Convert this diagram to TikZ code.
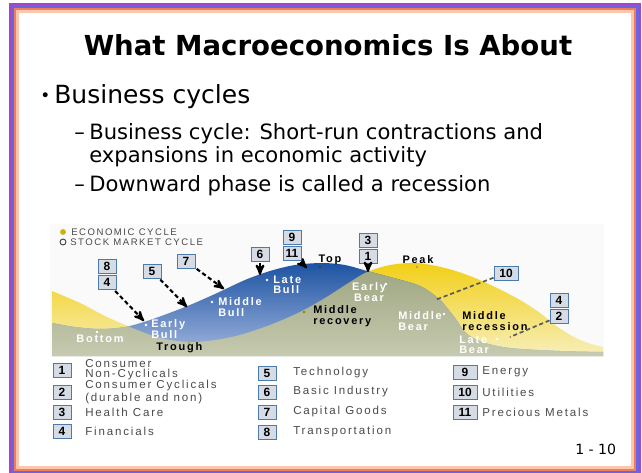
\documentclass[tikz,border=0pt]{standalone}
\usepackage{fontspec}
\setmainfont{DejaVu Sans}
\newfontfamily\chartfont[LetterSpace=16]{Liberation Sans}
\newfontfamily\numfont{Liberation Sans}
\usepackage{tikz}
\usetikzlibrary{arrows}
\usetikzlibrary{positioning}

\definecolor{rimpurple}{HTML}{A545C8}
\definecolor{rimblue}{HTML}{6A63E2}
\definecolor{rimorange}{HTML}{F27B5B}
\definecolor{rimpeach}{HTML}{FBC6AC}
\definecolor{econtop}{HTML}{F2CF16}
\definecolor{econbot}{HTML}{F7EFBC}
\definecolor{stocktop}{HTML}{1D53A2}
\definecolor{stockbot}{HTML}{A3B7DF}
\definecolor{bothtop}{HTML}{9CA47F}
\definecolor{bothbot}{HTML}{C6CAB0}
\definecolor{boxfill}{HTML}{D6DCE5}
\definecolor{boxedge}{HTML}{4C7AAA}
\definecolor{keytext}{HTML}{4A4A4A}

% the two cycles as filled areas (pixel units, y downwards)
\newcommand{\econarea}{(52,356) -- plot[smooth] coordinates {(52,291) (80,303) (105,316) (130,327) (160,338) (190,342) (215,340) (240,335) (270,325) (300,312) (325,298) (350,282) (367,272) (390,265) (417,263) (445,268) (470,276) (495,287) (520,300) (540,313) (555,325) (572,336) (588,343) (603,347)} -- (603,356) -- cycle}
\newcommand{\stockarea}{(52,356) -- plot[smooth] coordinates {(52,323) (75,327) (100,329) (125,327) (150,320) (185,307) (215,294) (245,280) (270,271) (295,265) (322,263) (345,265) (367,271) (390,277) (420,286) (440,300) (455,318) (466,333) (482,342) (510,348) (560,351) (603,352)} -- (603,356) -- cycle}

\tikzset{
  slidetext/.style={anchor=base west, inner sep=0pt},
  numbox/.style={draw=boxedge, fill=boxfill, line width=0.7pt, inner sep=0pt,
    minimum width=0.45cm, minimum height=0.35cm, font=\numfont\bfseries\fontsize{8.5}{9}\selectfont},
  phase/.style={anchor=west, align=left, inner sep=0pt, font=\chartfont\bfseries\fontsize{7.8}{7.5}\selectfont},
  darkphase/.style={phase, text=black},
  lightphase/.style={phase, text=white},
  keylabel/.style={anchor=west, inner sep=0pt, text=keytext, font=\chartfont\fontsize{6.8}{7}\selectfont},
  keyentry/.style={anchor=west, align=left, inner sep=0pt, text=keytext, font=\chartfont\fontsize{8.2}{7.2}\selectfont},
  cue/.style={black, line width=1.5pt, dash pattern=on 3pt off 2pt, ->, >=stealth', shorten <=1pt},
  guide/.style={black!65, line width=1.2pt, dash pattern=on 3pt off 2pt}
}

\begin{document}
\begin{tikzpicture}[x=0.025cm, y=-0.025cm]
\useasboundingbox (0,0) rectangle (642,472);
\clip (0,0) rectangle (642,472);
\fill[white] (0,0) rectangle (642,472);

% slide frame
\draw[rimpurple, line width=1.8pt] (10.25,4.25) rectangle (639.75,474.75);
\draw[rimblue, line width=1.8pt] (12.75,6.75) rectangle (637.25,472.25);
\draw[rimorange, line width=1.8pt] (15.25,9.25) rectangle (634.75,469.75);
\draw[rimpeach, line width=1.8pt] (17.75,11.75) rectangle (632.25,467.25);

% text
\node[anchor=base, inner sep=0pt, font=\bfseries\fontsize{19.6}{22}\selectfont] (title) at (328,56) {What Macroeconomics Is About};
\node[slidetext, font=\fontsize{12}{14}\selectfont] (dot1) at (40,102) {\textbullet};
\node[slidetext, font=\fontsize{17.8}{20}\selectfont] (lvl1) at (54,104) {Business cycles};
\node[slidetext, font=\fontsize{15}{18}\selectfont] (dash1) at (74,139) {–};
\node[slidetext, font=\fontsize{15}{18}\selectfont] (line1) at (89,139) {Business cycle: Short-run contractions and};
\node[slidetext, font=\fontsize{15}{18}\selectfont] (line2) at (89,162) {expansions in economic activity};
\node[slidetext, font=\fontsize{15}{18}\selectfont] (dash2) at (74,191) {–};
\node[slidetext, font=\fontsize{15}{18}\selectfont] (line3) at (89,191) {Downward phase is called a recession};

% cycle chart
\fill[gray!4] (50,224) rectangle (604,357);
\shade[top color=econtop, bottom color=econbot] \econarea;
\shade[top color=stocktop, bottom color=stockbot] \stockarea;
\begin{scope}
  \clip \econarea;
  \shade[top color=bothtop, bottom color=bothbot] \stockarea;
\end{scope}

\fill[econtop!85!black] (63,232) circle (2.1pt);
\draw[keytext, line width=0.7pt] (63,242) circle (2.1pt);
\node[keylabel] (econkey) at (71,232) {ECONOMIC CYCLE};
\node[keylabel] (stockkey) at (70,242) {STOCK MARKET CYCLE};

\node[lightphase] (earlybull) at (151,329) {Early\\Bull};
\node[lightphase] (middlebull) at (218,307) {Middle\\Bull};
\node[lightphase] (latebull) at (273,285) {Late\\Bull};
\node[darkphase, anchor=center] (toplbl) at (330,260) {Top};
\node[lightphase, anchor=center, align=center] (earlybear) at (369,292) {Early\\Bear};
\node[darkphase] (midrecovery) at (313,316) {Middle\\recovery};
\node[darkphase, anchor=center] (peak) at (418,260) {Peak};
\node[lightphase] (middlebear) at (398,321) {Middle\\Bear};
\node[darkphase] (midrecession) at (462,321) {Middle\\recession};
\node[lightphase] (latebear) at (459,345) {Late\\Bear};
\node[lightphase, anchor=center] (bottomlbl) at (100,339) {Bottom};
\node[darkphase] (trough) at (156,348) {Trough};

\foreach \x/\y/\c in {146/325/white, 212/302/white, 267/280/white, 320/267/black!75,
  386/284/white, 304/312/olive, 417/267/olive!70, 444/314/white, 506/317/econtop!60,
  497/339/white, 97/332/white, 189/343/olive!70}
  \fill[\c] (\x,\y) circle (1pt);

% sector boxes on the curves
\node[numbox] (s8) at (107,266) {8};
\node[numbox, below=1pt of s8] (s4) {4};
\node[numbox] (s5) at (152,271) {5};
\node[numbox] (s7) at (186,261) {7};
\node[numbox] (s6) at (260,254) {6};
\node[numbox] (s9) at (292,237) {9};
\node[numbox, below=1pt of s9] (s11) {11};
\node[numbox] (s3) at (368,240) {3};
\node[numbox, below=1pt of s3] (s1) {1};
\node[numbox, minimum width=0.6cm] (s10) at (506,273) {10};
\node[numbox] (s4r) at (559,300) {4};
\node[numbox, below=1pt of s4r] (s2) {2};

\coordinate (earlybullpt) at (144,321);
\coordinate (midbullpt) at (187,307);
\coordinate (midbull2pt) at (224,289);
\coordinate (latebullpt) at (260,275);
\coordinate (toppt) at (307,268);
\coordinate (crosspt) at (368,272);
\coordinate (midbearpt) at (435,300);
\coordinate (latebearpt) at (510,337);

\draw[cue] (s4) -- (earlybullpt);
\draw[cue] (s5) -- (midbullpt);
\draw[cue] (s7) -- (midbull2pt);
\draw[cue] (s6) -- (latebullpt);
\draw[cue] (s11) -- (toppt);
\draw[cue] (s1) -- (crosspt);
\draw[guide] (s10) -- (midbearpt);
\draw[guide] (s2) -- (latebearpt);

% sector key
\foreach \n/\y/\txt in {1/370/{Consumer\\Non-Cyclicals}, 2/392/{Consumer Cyclicals\\(durable and non)},
  3/412/{Health Care}, 4/431/{Financials}} {
  \node[numbox] (key\n) at (62,\y) {\n};
  \node[keyentry] (keytxt\n) at (85,\y) {\txt};
}
\foreach \n/\y/\txt in {5/373/{Technology}, 6/392/{Basic Industry}, 7/412/{Capital Goods}, 8/432/{Transportation}} {
  \node[numbox] (key\n) at (267,\y) {\n};
  \node[keyentry] (keytxt\n) at (293,\y) {\txt};
}
\foreach \n/\y/\txt in {9/372/{Energy}, 10/392/{Utilities}, 11/412/{Precious Metals}} {
  \node[numbox, minimum width=0.6cm] (key\n) at (465,\y) {\n};
  \node[keyentry] (keytxt\n) at (482,\y) {\txt};
}

\node[slidetext, font=\fontsize{10}{12}\selectfont] (pageno) at (575,454) {1 - 10};
\end{tikzpicture}
\end{document}
